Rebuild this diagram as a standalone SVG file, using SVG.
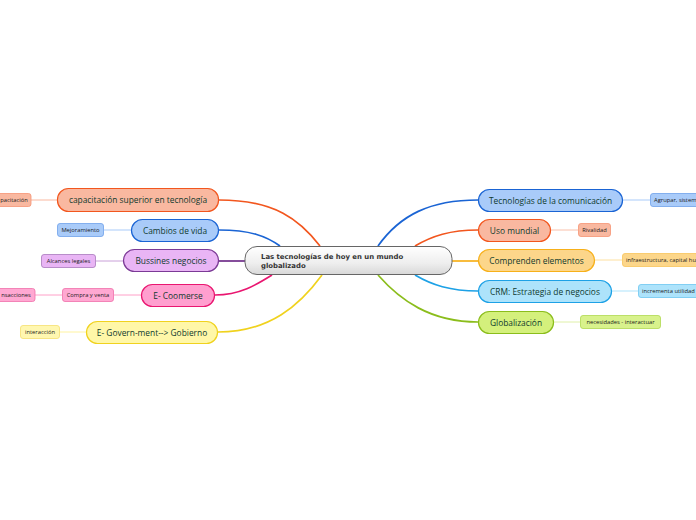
<svg xmlns="http://www.w3.org/2000/svg" width="696" height="520" viewBox="0 0 696 520">
<defs>
<linearGradient id="cg" x1="0" y1="0" x2="0" y2="1">
<stop offset="0" stop-color="#ffffff"/>
<stop offset="0.6" stop-color="#eeeeee"/>
<stop offset="1" stop-color="#d8d8d8"/>
</linearGradient>
<style>
.main text{font-family:"Open Sans","Noto Sans",sans-serif;font-size:8.4px;fill:#0f3a2e;text-anchor:middle}
.sub text{font-family:"Open Sans","Noto Sans",sans-serif;font-size:5.8px;fill:#1a1a1a;text-anchor:middle}
.c path{fill:none;stroke-width:1.7}
.s path{fill:none;stroke-width:1}
.center text{font-family:"DejaVu Sans","Liberation Sans",sans-serif;font-weight:bold;font-size:6.9px;fill:#333}
</style>
</defs>
<rect width="696" height="520" fill="#ffffff"/>
<g id="connectors">
<g class="c">
<path d="M219,200 C275,200 300,220 320,246" stroke="#f2561e"/>
<path d="M219,230 C250,230 266,236 280,246" stroke="#1a64d4"/>
<path d="M219,261 L245,261" stroke="#6f2f8a"/>
<path d="M215,295 C240,295 256,285 272,275" stroke="#e91670"/>
<path d="M218,332 C270,332 300,305 322,275" stroke="#f0d21e"/>
<path d="M478,200 C430,200 400,215 378,246" stroke="#1a64d4"/>
<path d="M478,230 C450,230 432,236 415,246" stroke="#f2561e"/>
<path d="M452,261 L478,261" stroke="#f7b01a"/>
<path d="M478,291 C450,291 432,285 415,275" stroke="#1da1e6"/>
<path d="M478,322 C430,322 400,300 378,275" stroke="#8bbd1c"/>
</g>
<g class="s">
<path d="M31,200 L57,200" stroke="#f9b8a0"/>
<path d="M104,230 L131,230" stroke="#a9cbf9"/>
<path d="M96,261 L123,261" stroke="#c9a0d8"/>
<path d="M35,295 L62,295" stroke="#ffa0c8"/>
<path d="M114,295 L141,295" stroke="#ffa0c8"/>
<path d="M60,332 L86,332" stroke="#fff3a0"/>
<path d="M623,200 L650,200" stroke="#a9cbf9"/>
<path d="M551,230 L578,230" stroke="#f9c0aa"/>
<path d="M595,260 L622,260" stroke="#fde0a0"/>
<path d="M612,291 L638,291" stroke="#ade3fb"/>
<path d="M554,322 L580,322" stroke="#dff0a8"/>
</g>
</g>
<g id="center" class="center">
<rect x="245" y="246.5" width="207" height="28" rx="12" fill="url(#cg)" stroke="#666" stroke-width="1"/>
<text x="261" y="258.5">Las tecnologías de hoy en un mundo</text>
<text x="261" y="268">globalizado</text>
</g>
<g id="n-capacitacion" class="main">
<rect x="57.5" y="188.5" width="161" height="23" rx="11" fill="#f9b8a0" stroke="#f2561e" stroke-width="1.2"/>
<text x="138" y="203">capacitación superior en tecnología</text>
</g>
<g id="s-capacitacion" class="sub">
<rect x="-20" y="193.5" width="51" height="13" rx="2.5" fill="#f9b8a0" stroke="#f59373" stroke-width="0.8"/>
<text x="14" y="202">pacitación</text>
</g>
<g id="n-cambios" class="main">
<rect x="131.5" y="219.5" width="87" height="22" rx="11" fill="#a9cbf9" stroke="#1a64d4" stroke-width="1.2"/>
<text x="175" y="233.5">Cambios de vida</text>
</g>
<g id="s-mejoramiento" class="sub">
<rect x="57.5" y="223.5" width="46" height="13" rx="2.5" fill="#a9cbf9" stroke="#6fa1ea" stroke-width="0.8"/>
<text x="80.5" y="232">Mejoramiento</text>
</g>
<g id="n-bussines" class="main">
<rect x="123.5" y="249.5" width="95" height="22" rx="11" fill="#e9b5f5" stroke="#7b3a96" stroke-width="1.2"/>
<text x="171" y="264">Bussines negocios</text>
</g>
<g id="s-alcances" class="sub">
<rect x="41.5" y="254.5" width="54" height="13" rx="2.5" fill="#e9b5f5" stroke="#a878bd" stroke-width="0.8"/>
<text x="68.5" y="263">Alcances legales</text>
</g>
<g id="n-coomerse" class="main">
<rect x="141.5" y="284.5" width="73" height="22" rx="11" fill="#ff9fcf" stroke="#e91670" stroke-width="1.2"/>
<text x="178" y="298.5">E- Coomerse</text>
</g>
<g id="s-compra" class="sub">
<rect x="62.5" y="288.5" width="51" height="13" rx="2.5" fill="#ffa8d2" stroke="#f070aa" stroke-width="0.8"/>
<text x="88" y="297">Compra y venta</text>
</g>
<g id="s-transacciones" class="sub">
<rect x="-20" y="288.5" width="55" height="13" rx="2.5" fill="#ffa8d2" stroke="#f070aa" stroke-width="0.8"/>
<text x="16" y="297">nsacciones</text>
</g>
<g id="n-government" class="main">
<rect x="86.5" y="321.5" width="131" height="22" rx="11" fill="#fff7a8" stroke="#f0d21e" stroke-width="1.2"/>
<text x="152" y="335.5">E- Govern-ment--&gt; Gobierno</text>
</g>
<g id="s-interaccion" class="sub">
<rect x="20.5" y="325.5" width="39" height="13" rx="2.5" fill="#fff7b0" stroke="#f5e070" stroke-width="0.8"/>
<text x="40" y="334">interacción</text>
</g>
<g id="n-tecnologias" class="main">
<rect x="478.5" y="189.5" width="144" height="22" rx="11" fill="#a9cbf9" stroke="#1a64d4" stroke-width="1.2"/>
<text x="550.5" y="203.5">Tecnologías de la comunicación</text>
</g>
<g id="s-agrupar" class="sub">
<rect x="650.5" y="193.5" width="70" height="13" rx="2.5" fill="#a9cbf9" stroke="#6fa1ea" stroke-width="0.8"/>
<text x="654" y="202" style="text-anchor:start">Agrupar, sistem</text>
</g>
<g id="n-uso" class="main">
<rect x="478.5" y="219.5" width="72" height="22" rx="11" fill="#f9b8a0" stroke="#f2561e" stroke-width="1.2"/>
<text x="514.5" y="233.5">Uso mundial</text>
</g>
<g id="s-rivalidad" class="sub">
<rect x="578.5" y="223.5" width="32" height="13" rx="2.5" fill="#f9b8a0" stroke="#f59373" stroke-width="0.8"/>
<text x="594.5" y="232">Rivalidad</text>
</g>
<g id="n-comprenden" class="main">
<rect x="478.5" y="249.5" width="116" height="22" rx="11" fill="#fcd68a" stroke="#f7b01a" stroke-width="1.2"/>
<text x="536.5" y="264">Comprenden elementos</text>
</g>
<g id="s-infra" class="sub">
<rect x="622.5" y="253.5" width="98" height="13" rx="2.5" fill="#fcd68a" stroke="#f7c45a" stroke-width="0.8"/>
<text x="626" y="262" style="text-anchor:start">infraestructura, capital hu</text>
</g>
<g id="n-crm" class="main">
<rect x="478.5" y="280.5" width="133" height="22" rx="11" fill="#ade3fb" stroke="#1da1e6" stroke-width="1.2"/>
<text x="545" y="294.5">CRM: Estrategia de negocios</text>
</g>
<g id="s-incrementa" class="sub">
<rect x="638.5" y="284.5" width="82" height="13" rx="2.5" fill="#ade3fb" stroke="#6cc6f0" stroke-width="0.8"/>
<text x="642" y="293" style="text-anchor:start">incrementa utilidad</text>
</g>
<g id="n-globalizacion" class="main">
<rect x="478.5" y="311.5" width="75" height="22" rx="11" fill="#d4f07c" stroke="#8bbd1c" stroke-width="1.2"/>
<text x="516" y="325.5">Globalización</text>
</g>
<g id="s-necesidades" class="sub">
<rect x="580.5" y="315.5" width="80" height="13" rx="2.5" fill="#d8f28c" stroke="#b0d850" stroke-width="0.8"/>
<text x="620.5" y="324">necesidades - interactuar</text>
</g>
</svg>
